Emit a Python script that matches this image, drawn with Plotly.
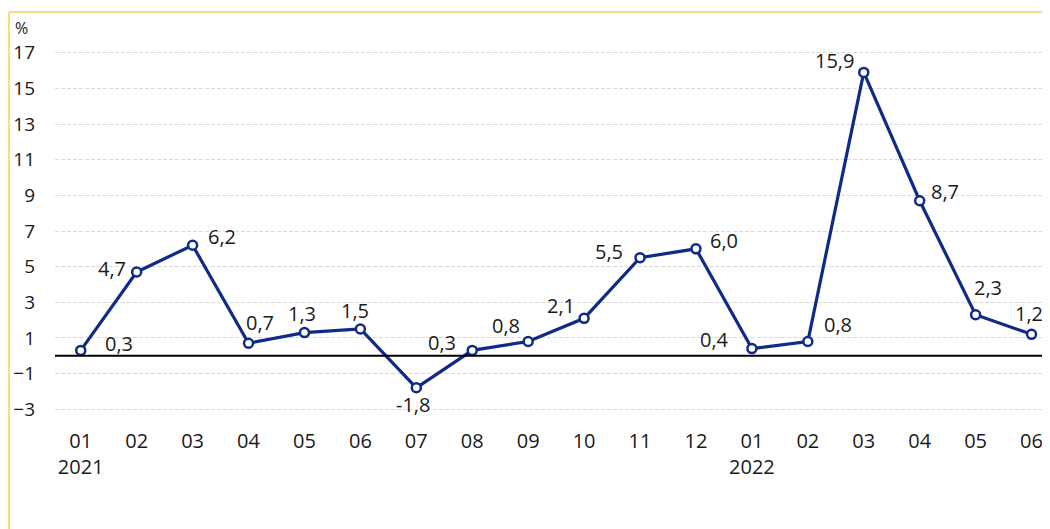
import plotly.graph_objects as go

# ---- data ----
months = ["01", "02", "03", "04", "05", "06", "07", "08", "09", "10", "11", "12",
          "01", "02", "03", "04", "05", "06"]
years = ["2021", "", "", "", "", "", "", "", "", "", "", "", "2022", "", "", "", "", ""]
values = [0.3, 4.7, 6.2, 0.7, 1.3, 1.5, -1.8, 0.3, 0.8, 2.1, 5.5, 6.0,
          0.4, 0.8, 15.9, 8.7, 2.3, 1.2]
y_ticks = [-3, -1, 1, 3, 5, 7, 9, 11, 13, 15, 17]

# ---- label placement (pixel offsets from point) ----
label_offsets = [(38, 7), (-25, 3), (29, 9), (11, 21), (-2, 19), (-5, 19),
                 (-3, -17), (-30, 8), (-22, 16), (-23, 13), (-31, 6), (28, 8),
                 (-37, 9), (30, 17), (-29, 12), (25, 9), (12, 27), (-3, 21)]

NAVY = "#0f2a87"
FONT = "Open Sans"

x_idx = list(range(len(values)))
tick_text = [m if not y else f"{m}<br>{y}" for m, y in zip(months, years)]

fig = go.Figure()
fig.add_trace(go.Scatter(
    x=x_idx, y=values, mode="lines+markers",
    line=dict(color=NAVY, width=3.2),
    marker=dict(symbol="circle", size=9, color="white",
                line=dict(color=NAVY, width=2.5)),
    hoverinfo="skip", showlegend=False,
))

# zero line
fig.add_shape(type="line", xref="paper", yref="y", x0=0, x1=1, y0=0, y1=0,
              line=dict(color="black", width=2))

for i, (v, (dx, dy)) in enumerate(zip(values, label_offsets)):
    fig.add_annotation(x=i, y=v, xref="x", yref="y",
                       text=f"{v:.1f}".replace(".", ","), showarrow=False,
                       xanchor="center", yanchor="middle",
                       xshift=dx, yshift=dy,
                       font=dict(family=FONT, size=20, color="#1a1a1a"))

# page body adds an 8px offset; figure drawn from (8,8)
L, R, T, B = 47, 0, 27, 102
W, H = 1042, 521
pw, ph = W - L - R, H - T - B

# yellow frame (top and left)
fx = (1 - L) / pw
fy = (H - B - 4) / ph
fig.add_shape(type="line", xref="paper", yref="paper", x0=fx, x1=1.2, y0=fy, y1=fy,
              line=dict(color="#f6cf5c", width=1.5))
fig.add_shape(type="line", xref="paper", yref="paper", x0=fx, x1=fx, y0=fy, y1=-0.5,
              line=dict(color="#f6cf5c", width=1.5))

fig.add_annotation(text="%", xref="paper", yref="paper",
                   x=(6 - L) / pw, y=(H - B - 20) / ph, xanchor="left", yanchor="middle",
                   showarrow=False, borderpad=0,
                   font=dict(family=FONT, size=16, color="#1a1a1a"))

fig.update_layout(
    width=W, height=H,
    margin=dict(l=L, r=R, t=T, b=B, pad=0),
    paper_bgcolor="white", plot_bgcolor="white",
    font=dict(family=FONT, size=20, color="#1a1a1a"),
    xaxis=dict(range=[-0.46, 17.33], tickmode="array", tickvals=x_idx,
               ticktext=tick_text, showgrid=False, zeroline=False,
               showline=False, ticks="", tickfont=dict(size=20)),
    yaxis=dict(range=[-4, 18], tickmode="array", tickvals=y_ticks,
               showgrid=True, gridcolor="#dadada", gridwidth=1, griddash="4px,2px",
               zeroline=False, showline=False, ticks="", ticklabelstandoff=19,
               tickfont=dict(size=19)),
)

fig.write_html("out.html")
